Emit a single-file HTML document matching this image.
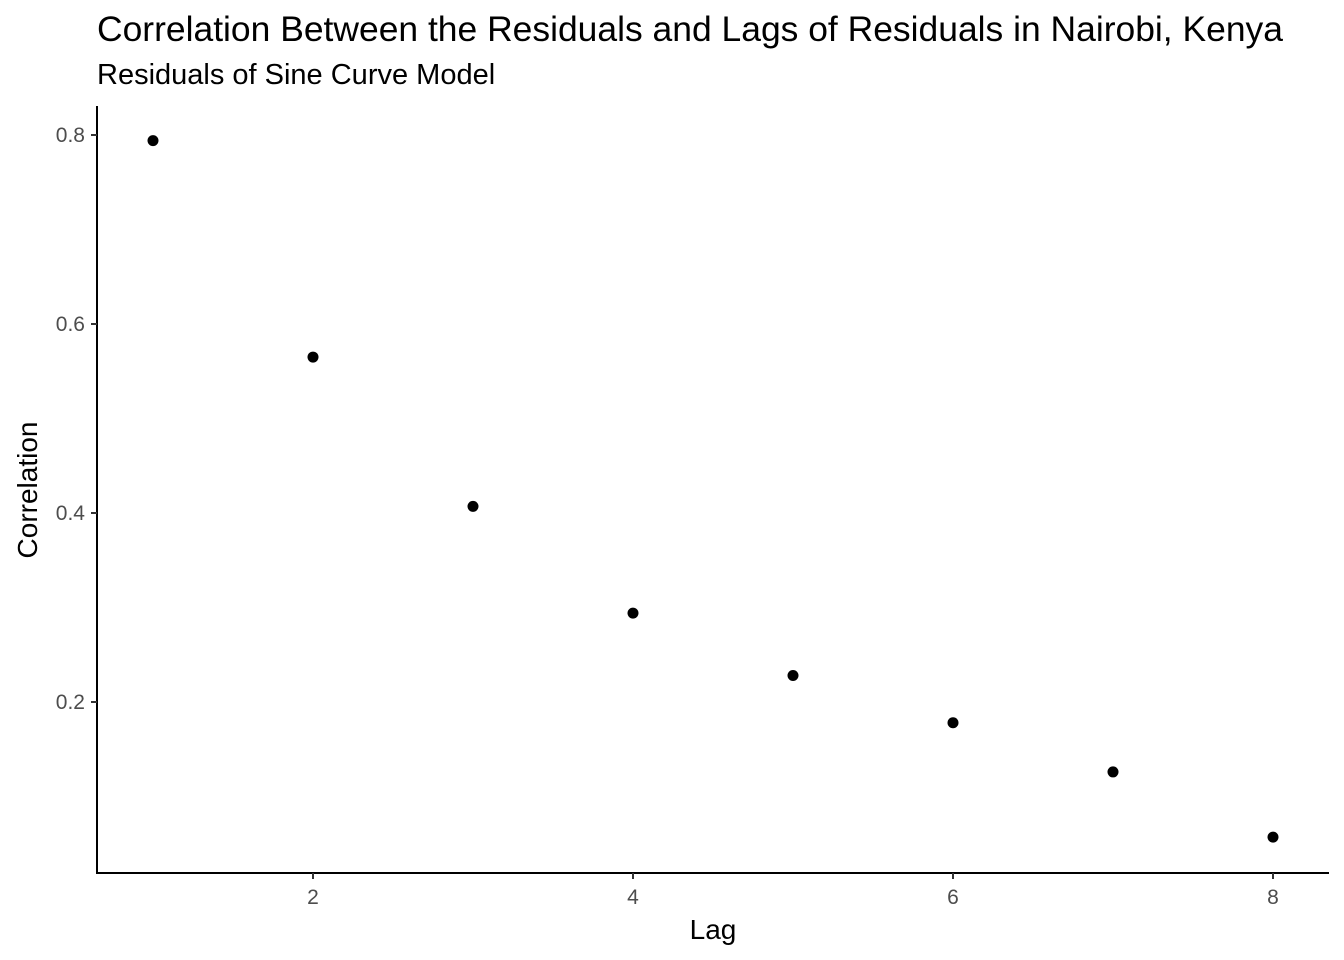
<!DOCTYPE html>
<html><head><meta charset="utf-8"><style>
body{margin:0;background:#fff;}
svg{display:block;font-family:"Liberation Sans",sans-serif;}
</style></head><body>
<svg id="chart" width="1344" height="960">
<text x="97" y="41" font-size="35" fill="#000" textLength="1186" lengthAdjust="spacingAndGlyphs">Correlation Between the Residuals and Lags of Residuals in Nairobi, Kenya</text>
<text x="97" y="84" font-size="29" fill="#000">Residuals of Sine Curve Model</text>
<g id="axes"></g>
<g id="points"></g>
<text x="713" y="939" font-size="28" text-anchor="middle">Lag</text>
<text transform="translate(37,490) rotate(-90)" font-size="28" text-anchor="middle">Correlation</text>
</svg>
<script>
const lags = [1,2,3,4,5,6,7,8];
const correlations = [0.794,0.565,0.407,0.294,0.228,0.178,0.126,0.057];
const xTicks = [2,4,6,8];
const yTicks = [0.2,0.4,0.6,0.8];
const NS='http://www.w3.org/2000/svg';
function xs(v){return 313+(v-2)*160;}
function ys(v){return 135+(0.8-v)*945;}
function mk(tag,attrs,parent){const e=document.createElementNS(NS,tag);for(const k in attrs)e.setAttribute(k,attrs[k]);parent.appendChild(e);return e;}
const ax=document.getElementById('axes');
let l=mk('line',{x1:97,y1:106,x2:97,y2:874,stroke:'#000','stroke-width':2},ax);


l=mk('line',{x1:96,y1:873,x2:1329,y2:873,stroke:'#000','stroke-width':2},ax);


xTicks.forEach(t=>{
  const tk=mk('line',{x1:xs(t),y1:873,x2:xs(t),y2:879,stroke:'#333','stroke-width':2},ax);
  
  
  const tx=mk('text',{x:xs(t),y:904,'font-size':21,fill:'#4d4d4d','text-anchor':'middle'},ax);
  tx.textContent=t;
  
  
});
yTicks.forEach(t=>{
  const tk=mk('line',{x1:91,y1:ys(t),x2:97,y2:ys(t),stroke:'#333','stroke-width':2},ax);
  
  
  const tx=mk('text',{x:85,y:ys(t)+7,'font-size':21,fill:'#4d4d4d','text-anchor':'end'},ax);
  tx.textContent=t.toFixed(1);
  
  
});
const pg=document.getElementById('points');
lags.forEach((lag,i)=>{
  const c=mk('circle',{cx:xs(lag),cy:ys(correlations[i]),r:5.5,fill:'#000'},pg);
  
  
});
</script>
</body></html>
